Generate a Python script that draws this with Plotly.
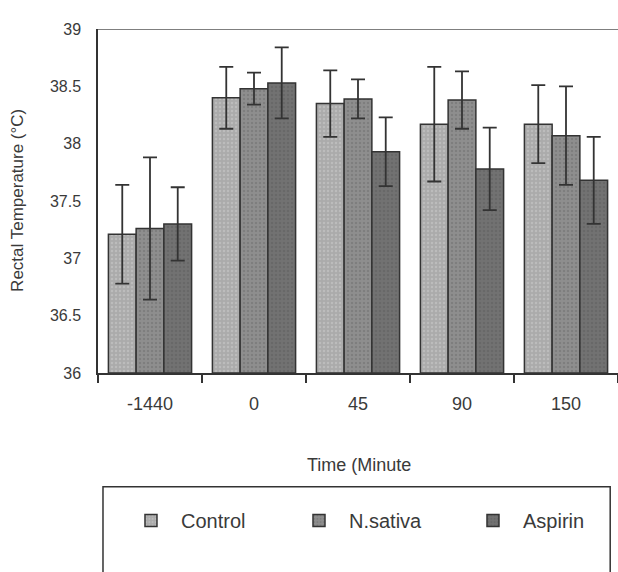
import plotly.graph_objects as go

times = ["-1440", "0", "45", "90", "150"]
control = [37.21, 38.40, 38.35, 38.17, 38.17]
control_err = [0.43, 0.27, 0.29, 0.50, 0.34]
nsativa = [37.26, 38.48, 38.39, 38.38, 38.07]
nsativa_err = [0.62, 0.14, 0.17, 0.25, 0.43]
aspirin = [37.30, 38.53, 37.93, 37.78, 37.68]
aspirin_err = [0.32, 0.31, 0.30, 0.36, 0.38]

FONT = "Liberation Sans, Arial, sans-serif"
LINE = "#333333"
TXT = "#3a3a3a"

series = [
    ("Control", control, control_err, "#ababab", "#cbcbcb", "legend", 0.0442),
    ("N.sativa", nsativa, nsativa_err, "#8e8e8e", "#6e6e6e", "legend2", 0.3673),
    ("Aspirin", aspirin, aspirin_err, "#727272", "#5e5e5e", "legend3", 0.7019),
]

fig = go.Figure()
legends = {}
for name, vals, errs, bg, fg, leg, lx in series:
    fig.add_trace(go.Bar(
        name=name, x=times, y=[v - 36 for v in vals], base=36, legend=leg,
        marker=dict(color=bg, line=dict(color=LINE, width=1.5),
                    pattern=dict(shape=".", fgcolor=fg, bgcolor=bg, size=4, solidity=0.3)),
        error_y=dict(type="data", array=errs, visible=True, color=LINE, thickness=1.8, width=7),
    ))
    legends[leg] = dict(orientation="h", x=lx, y=-0.372, xanchor="left", yanchor="top",
                        itemwidth=50, font=dict(size=20, color=TXT),
                        bgcolor="rgba(0,0,0,0)")

fig.update_layout(
    width=618, height=572,
    margin=dict(l=98, r=0, t=29, b=199, autoexpand=False),
    paper_bgcolor="white", plot_bgcolor="white",
    barmode="group", bargap=0.2, bargroupgap=0,
    font=dict(family=FONT, size=16, color=TXT),
    showlegend=True,
    xaxis=dict(type="category", tickson="boundaries", ticks="outside", ticklen=8,
               tickcolor=LINE, tickwidth=1.5, showline=True, linecolor=LINE, linewidth=1.5,
               showgrid=False, tickfont=dict(size=18), ticklabelstandoff=14),
    yaxis=dict(range=[36, 39], tickvals=[36, 36.5, 37, 37.5, 38, 38.5, 39],
               ticktext=["36", "36.5", "37", "37.5", "38", "38.5", "39"],
               showline=True, linecolor=LINE, linewidth=1.5, showgrid=False,
               ticks="", tickfont=dict(size=16), zeroline=False, ticklabelstandoff=12),
    shapes=[
        dict(type="line", xref="paper", yref="y", x0=0, x1=1, y0=39, y1=39,
             line=dict(color="#555555", width=1.5)),
        dict(type="rect", xref="paper", yref="paper", x0=0.0096, x1=0.985, y0=-0.62, y1=-0.331,
             line=dict(color=LINE, width=1.5)),
    ],
    annotations=[
        dict(text="Time (Minute", xref="paper", yref="paper", x=0.502, y=-0.267,
             xanchor="center", yanchor="middle", showarrow=False, font=dict(size=18)),
        dict(text="Rectal Temperature (°C)", xref="paper", yref="paper", x=-0.154, y=0.503,
             xanchor="center", yanchor="middle",
             textangle=-90, showarrow=False, font=dict(size=17)),
    ],
    **legends,
)

fig.write_html("out.html")
